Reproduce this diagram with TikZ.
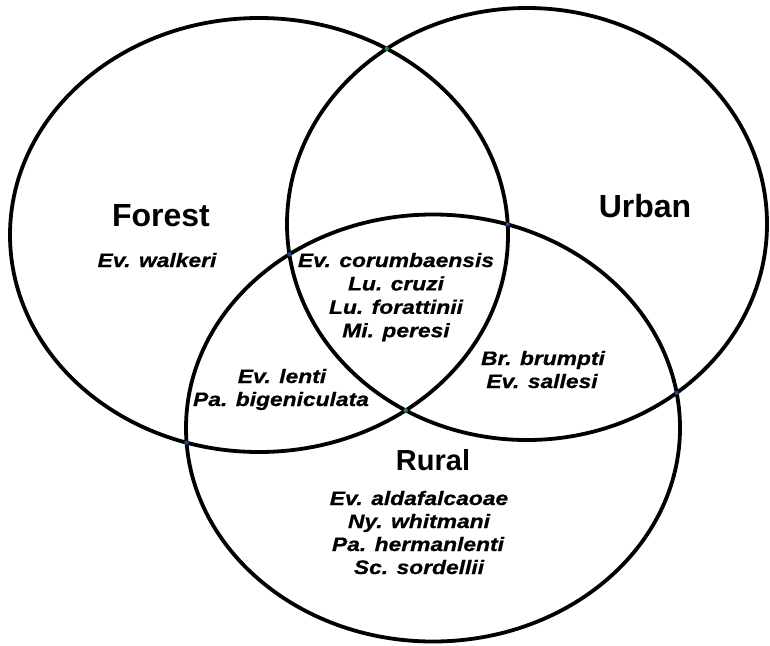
\documentclass[tikz,border=0pt]{standalone}
\usepackage{fontspec}
\setmainfont{Liberation Sans}
\newfontfamily\spfont{Liberation Sans}[FakeStretch=1.17, BoldItalicFeatures={FakeBold=0.7}]
\usetikzlibrary{intersections}
\definecolor{dotgreen}{RGB}{20,140,60}
\definecolor{dotblue}{RGB}{30,70,140}
\tikzset{
  ring/.style={line width=3.8pt, draw=black},
  lbl/.style={font=\fontsize{32}{36}\selectfont\bfseries, inner sep=0pt, anchor=base},
  sp/.style={font=\spfont\fontsize{19.5}{23}\selectfont\bfseries\itshape, inner sep=0pt, anchor=base},
  gdot/.style={fill=dotgreen},
  bdot/.style={fill=dotblue}
}
\begin{document}
\begin{tikzpicture}[x=1pt,y=-1pt]
\useasboundingbox[fill=white] (0,0) rectangle (770,645);
% sets
\draw[ring, name path=F] (259,235) ellipse [x radius=249, y radius=217];
\draw[ring, name path=U] (527,224) ellipse [x radius=240, y radius=216];
\draw[ring, name path=R] (433,428) ellipse [x radius=247, y radius=213.5];
% intersection dots
\path[name intersections={of=F and U, name=fu}];
\path[name intersections={of=F and R, name=fr}];
\path[name intersections={of=U and R, name=ur}];
\fill[gdot] (fu-1) circle [radius=2.2pt];
\fill[gdot] (fu-2) circle [radius=2.2pt];
\fill[bdot] (fr-1) circle [radius=2.2pt];
\fill[bdot] (fr-2) circle [radius=2.2pt];
\fill[bdot] (ur-1) circle [radius=2.2pt];
\fill[bdot] (ur-2) circle [radius=2.2pt];
% set labels
\node[lbl] (forest) at (161,226) {Forest};
\node[lbl] (urban) at (645,217) {Urban};
\node[lbl, font=\fontsize{29}{33}\selectfont\bfseries] (rural) at (433,470) {Rural};
% forest only
\node[sp] (f1) at (157,267) {Ev. walkeri};
% all three
\node[sp] (c1) at (396,267) {Ev. corumbaensis};
\node[sp] (c2) at (396,290.4) {Lu. cruzi};
\node[sp] (c3) at (396,313.8) {Lu. forattinii};
\node[sp] (c4) at (396,337.2) {Mi. peresi};
% forest & rural
\node[sp] (fr1) at (282,383) {Ev. lenti};
\node[sp] (fr2) at (281,406) {Pa. bigeniculata};
% urban & rural
\node[sp] (ur1) at (543,365) {Br. brumpti};
\node[sp] (ur2) at (542,388) {Ev. sallesi};
% rural only
\node[sp] (r1) at (419,505) {Ev. aldafalcaoae};
\node[sp] (r2) at (419,528) {Ny. whitmani};
\node[sp] (r3) at (418,551) {Pa. hermanlenti};
\node[sp] (r4) at (419,574) {Sc. sordellii};
\end{tikzpicture}
\end{document}
